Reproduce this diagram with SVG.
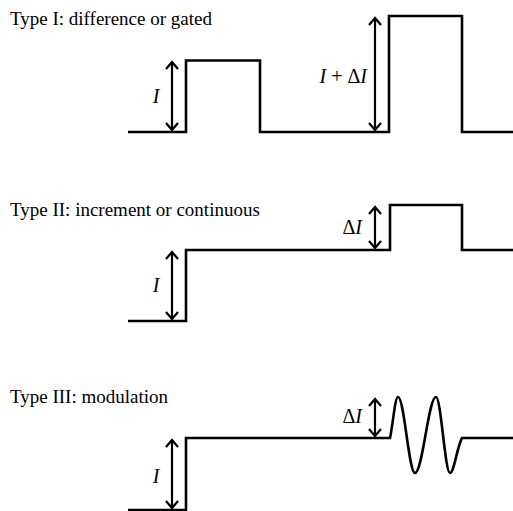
<svg xmlns="http://www.w3.org/2000/svg" width="513" height="511" viewBox="0 0 513 511">
<style>
.title{font-family:"Liberation Serif","Times New Roman",serif;font-size:19px;fill:#000}
.lbl{font-family:"Liberation Serif","Times New Roman",serif;font-size:20px;fill:#000}
.it{font-style:italic}
.sig{fill:none;stroke:#000;stroke-width:2.6;stroke-linejoin:miter}
.arr{fill:none;stroke:#000;stroke-width:2.2}
</style>
<rect width="513" height="511" fill="#fff"/>
<g id="panel1">
<text class="title" x="10" y="25">Type I: difference or gated</text>
<path class="sig" d="M128,132 H186 V60.5 H260 V132 H389 V16 H462 V132 H513"/>
<g id="arrow-I-1" class="arr">
<path d="M172,62 V130 M166,69 L172,62 L178,69 M166,123 L172,130 L178,123"/>
</g>
<text class="lbl it" x="156" y="103" text-anchor="middle">I</text>
<g id="arrow-IdI-1" class="arr">
<path d="M375,18 V130 M369,25 L375,18 L381,25 M369,123 L375,130 L381,123"/>
</g>
<text class="lbl" x="367" y="83" text-anchor="end"><tspan class="it">I</tspan> + Δ<tspan class="it">I</tspan></text>
</g>
<g id="panel2">
<text class="title" x="10" y="216">Type II: increment or continuous</text>
<path class="sig" d="M128,321 H186 V250 H390 V205 H462 V250 H513"/>
<g id="arrow-I-2" class="arr">
<path d="M172,252 V319 M166,259 L172,252 L178,259 M166,312 L172,319 L178,312"/>
</g>
<text class="lbl it" x="156" y="292" text-anchor="middle">I</text>
<g id="arrow-dI-2" class="arr">
<path d="M375,207 V248 M369,214 L375,207 L381,214 M369,241 L375,248 L381,241"/>
</g>
<text class="lbl" x="362" y="234" text-anchor="end">Δ<tspan class="it">I</tspan></text>
</g>
<g id="panel3">
<text class="title" x="10" y="403">Type III: modulation</text>
<path class="sig" d="M128,510 H186 V438 H390 C393,424 395,397 398,397 C404.2,397 408.8,473 415,473 C422.6,473 428.4,397 436,397 C441,397 445,473 450,473 C454,473 457,447 462,438 H513"/>
<g id="arrow-I-3" class="arr">
<path d="M172,440 V508 M166,447 L172,440 L178,447 M166,501 L172,508 L178,501"/>
</g>
<text class="lbl it" x="156" y="483" text-anchor="middle">I</text>
<g id="arrow-dI-3" class="arr">
<path d="M375,399 V436 M369,406 L375,399 L381,406 M369,429 L375,436 L381,429"/>
</g>
<text class="lbl" x="362" y="423" text-anchor="end">Δ<tspan class="it">I</tspan></text>
</g>
</svg>
